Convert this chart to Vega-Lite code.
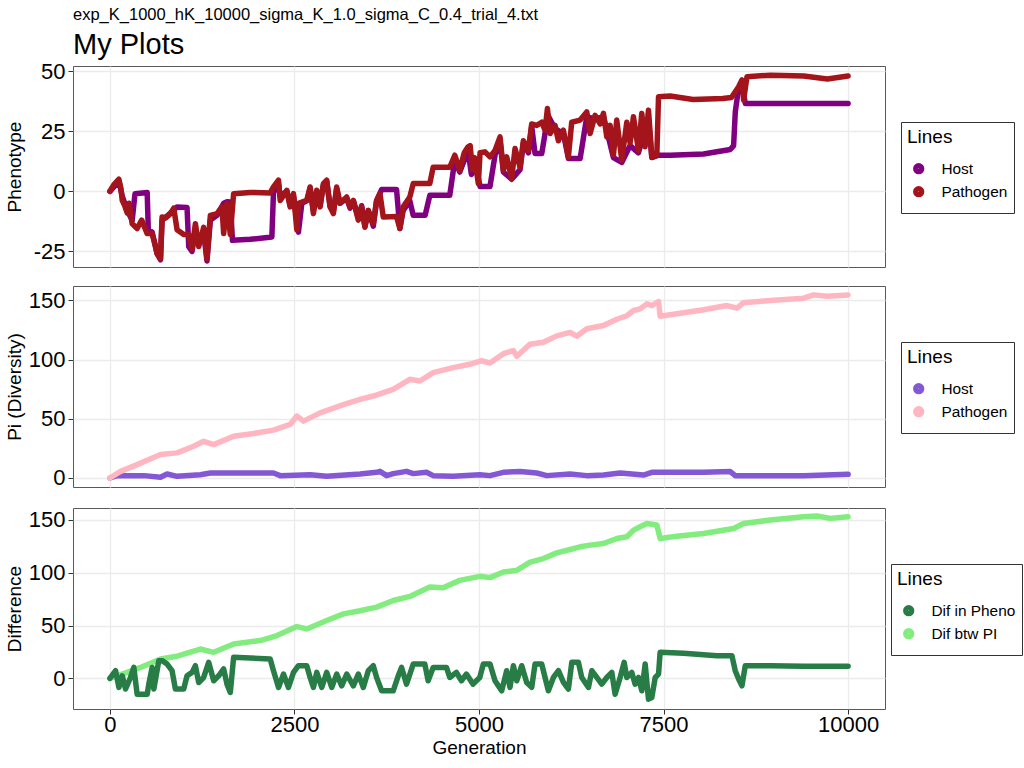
{
  "$schema": "https://vega.github.io/schema/vega-lite/v6.json",
  "background": "white",
  "padding": {"left": 4, "top": 6, "right": 0, "bottom": 0},
  "spacing": 17,
  "config": {
    "font": "Liberation Sans",
    "view": {"stroke": "#595959", "strokeWidth": 1},
    "axis": {"gridColor": "#EBEBEB", "gridWidth": 1.3, "domain": false, "tickColor": "#333333", "tickSize": 5, "labelFont": "Liberation Sans", "labelFontSize": 22, "labelColor": "#000000", "titleFont": "Liberation Sans", "titleFontSize": 19, "titleFontWeight": "normal", "titleColor": "#000000", "labelPadding": 3, "labelExpr": "'' + datum.value"},
    "legend": {"titleFont": "Liberation Sans", "labelFont": "Liberation Sans", "titleFontSize": 19, "titleFontWeight": "normal", "titleColor": "#000000", "labelFontSize": 15.4, "labelColor": "#000000", "strokeColor": "#333333", "fillColor": "white", "padding": 6, "symbolType": "circle", "symbolSize": 28, "symbolStrokeWidth": 6, "symbolOffset": 4, "labelOffset": 15, "rowPadding": -7, "titlePadding": 14, "symbolOpacity": 1}
  },
  "datasets": {
    "pheno": [
      {"g":0,"v":0,"s":"Host"},{"g":60,"v":2,"s":"Host"},{"g":122,"v":4,"s":"Host"},{"g":167,"v":-2,"s":"Host"},{"g":234,"v":-8,"s":"Host"},{"g":302,"v":-12,"s":"Host"},{"g":340,"v":-1,"s":"Host"},{"g":505,"v":-0.5,"s":"Host"},{"g":520,"v":-16,"s":"Host"},{"g":572,"v":-17,"s":"Host"},{"g":640,"v":-26,"s":"Host"},{"g":685,"v":-28.5,"s":"Host"},{"g":707,"v":-12,"s":"Host"},{"g":760,"v":-10.7,"s":"Host"},{"g":820,"v":-9,"s":"Host"},{"g":910,"v":-6.5,"s":"Host"},{"g":1045,"v":-6.8,"s":"Host"},{"g":1068,"v":-23,"s":"Host"},{"g":1113,"v":-25,"s":"Host"},{"g":1158,"v":-16,"s":"Host"},{"g":1203,"v":-22,"s":"Host"},{"g":1270,"v":-17,"s":"Host"},{"g":1315,"v":-29,"s":"Host"},{"g":1361,"v":-12,"s":"Host"},{"g":1451,"v":-10,"s":"Host"},{"g":1541,"v":-5,"s":"Host"},{"g":1586,"v":-4.4,"s":"Host"},{"g":1631,"v":-4.5,"s":"Host"},{"g":1660,"v":-20.4,"s":"Host"},{"g":1900,"v":-20,"s":"Host"},{"g":2194,"v":-19,"s":"Host"},{"g":2216,"v":-0.5,"s":"Host"},{"g":2284,"v":3,"s":"Host"},{"g":2307,"v":-2,"s":"Host"},{"g":2397,"v":0,"s":"Host"},{"g":2442,"v":-6,"s":"Host"},{"g":2487,"v":-2,"s":"Host"},{"g":2554,"v":-17,"s":"Host"},{"g":2600,"v":-5,"s":"Host"},{"g":2667,"v":-4,"s":"Host"},{"g":2712,"v":1,"s":"Host"},{"g":2757,"v":-8,"s":"Host"},{"g":2802,"v":0,"s":"Host"},{"g":2847,"v":-6,"s":"Host"},{"g":2892,"v":2.5,"s":"Host"},{"g":2937,"v":4,"s":"Host"},{"g":2982,"v":-6,"s":"Host"},{"g":3027,"v":-8.5,"s":"Host"},{"g":3072,"v":1,"s":"Host"},{"g":3117,"v":-5,"s":"Host"},{"g":3208,"v":-3,"s":"Host"},{"g":3253,"v":-7,"s":"Host"},{"g":3298,"v":-4,"s":"Host"},{"g":3365,"v":-11,"s":"Host"},{"g":3410,"v":-6,"s":"Host"},{"g":3455,"v":-14.5,"s":"Host"},{"g":3500,"v":-8,"s":"Host"},{"g":3568,"v":-14.5,"s":"Host"},{"g":3613,"v":-4,"s":"Host"},{"g":3680,"v":0.7,"s":"Host"},{"g":3883,"v":0.7,"s":"Host"},{"g":3928,"v":-15.5,"s":"Host"},{"g":3973,"v":-8,"s":"Host"},{"g":4063,"v":-4,"s":"Host"},{"g":4109,"v":-10,"s":"Host"},{"g":4270,"v":-10,"s":"Host"},{"g":4334,"v":-1.7,"s":"Host"},{"g":4604,"v":-1.7,"s":"Host"},{"g":4672,"v":13,"s":"Host"},{"g":4739,"v":8,"s":"Host"},{"g":4852,"v":17,"s":"Host"},{"g":4897,"v":7,"s":"Host"},{"g":4964,"v":10,"s":"Host"},{"g":5014,"v":2,"s":"Host"},{"g":5149,"v":2,"s":"Host"},{"g":5217,"v":15,"s":"Host"},{"g":5285,"v":21,"s":"Host"},{"g":5330,"v":8,"s":"Host"},{"g":5443,"v":5,"s":"Host"},{"g":5556,"v":9,"s":"Host"},{"g":5601,"v":20,"s":"Host"},{"g":5669,"v":16,"s":"Host"},{"g":5714,"v":27,"s":"Host"},{"g":5759,"v":15.7,"s":"Host"},{"g":5850,"v":15.7,"s":"Host"},{"g":5895,"v":24,"s":"Host"},{"g":5927,"v":32,"s":"Host"},{"g":6030,"v":26,"s":"Host"},{"g":6143,"v":24,"s":"Host"},{"g":6211,"v":13.6,"s":"Host"},{"g":6370,"v":13.6,"s":"Host"},{"g":6460,"v":31,"s":"Host"},{"g":6573,"v":30,"s":"Host"},{"g":6686,"v":31,"s":"Host"},{"g":6821,"v":14,"s":"Host"},{"g":6934,"v":12,"s":"Host"},{"g":7047,"v":19,"s":"Host"},{"g":7160,"v":16,"s":"Host"},{"g":7296,"v":30,"s":"Host"},{"g":7341,"v":14,"s":"Host"},{"g":7432,"v":15,"s":"Host"},{"g":7590,"v":15,"s":"Host"},{"g":8042,"v":15.5,"s":"Host"},{"g":8404,"v":17.4,"s":"Host"},{"g":8449,"v":19,"s":"Host"},{"g":8472,"v":33,"s":"Host"},{"g":8517,"v":43,"s":"Host"},{"g":8562,"v":44,"s":"Host"},{"g":8608,"v":36.5,"s":"Host"},{"g":10000,"v":36.5,"s":"Host"},
      {"g":0,"v":0,"s":"Pathogen"},{"g":60,"v":3,"s":"Pathogen"},{"g":122,"v":5,"s":"Pathogen"},{"g":150,"v":1,"s":"Pathogen"},{"g":167,"v":-3.8,"s":"Pathogen"},{"g":200,"v":-6,"s":"Pathogen"},{"g":234,"v":-9,"s":"Pathogen"},{"g":260,"v":-5,"s":"Pathogen"},{"g":302,"v":-13.5,"s":"Pathogen"},{"g":369,"v":-15.5,"s":"Pathogen"},{"g":430,"v":-12,"s":"Pathogen"},{"g":505,"v":-17.6,"s":"Pathogen"},{"g":572,"v":-17.6,"s":"Pathogen"},{"g":610,"v":-22,"s":"Pathogen"},{"g":640,"v":-26,"s":"Pathogen"},{"g":685,"v":-28,"s":"Pathogen"},{"g":707,"v":-10.7,"s":"Pathogen"},{"g":760,"v":-11,"s":"Pathogen"},{"g":820,"v":-9.3,"s":"Pathogen"},{"g":865,"v":-7,"s":"Pathogen"},{"g":910,"v":-16,"s":"Pathogen"},{"g":1000,"v":-18,"s":"Pathogen"},{"g":1068,"v":-18,"s":"Pathogen"},{"g":1113,"v":-24,"s":"Pathogen"},{"g":1158,"v":-13.5,"s":"Pathogen"},{"g":1203,"v":-23,"s":"Pathogen"},{"g":1270,"v":-15,"s":"Pathogen"},{"g":1315,"v":-28,"s":"Pathogen"},{"g":1361,"v":-10,"s":"Pathogen"},{"g":1451,"v":-9.3,"s":"Pathogen"},{"g":1518,"v":-6.5,"s":"Pathogen"},{"g":1541,"v":-17.6,"s":"Pathogen"},{"g":1586,"v":-5,"s":"Pathogen"},{"g":1631,"v":-18,"s":"Pathogen"},{"g":1676,"v":-1,"s":"Pathogen"},{"g":1900,"v":-0.5,"s":"Pathogen"},{"g":2171,"v":-0.7,"s":"Pathogen"},{"g":2216,"v":1.8,"s":"Pathogen"},{"g":2284,"v":4.6,"s":"Pathogen"},{"g":2307,"v":-3.8,"s":"Pathogen"},{"g":2397,"v":0.4,"s":"Pathogen"},{"g":2442,"v":-6.5,"s":"Pathogen"},{"g":2487,"v":-1,"s":"Pathogen"},{"g":2532,"v":-16,"s":"Pathogen"},{"g":2554,"v":-5,"s":"Pathogen"},{"g":2667,"v":-3.8,"s":"Pathogen"},{"g":2712,"v":1.8,"s":"Pathogen"},{"g":2757,"v":-9.3,"s":"Pathogen"},{"g":2802,"v":0.4,"s":"Pathogen"},{"g":2847,"v":-6.5,"s":"Pathogen"},{"g":2892,"v":3.2,"s":"Pathogen"},{"g":2937,"v":4.6,"s":"Pathogen"},{"g":2982,"v":-6.5,"s":"Pathogen"},{"g":3027,"v":-9.3,"s":"Pathogen"},{"g":3072,"v":1.8,"s":"Pathogen"},{"g":3117,"v":-5,"s":"Pathogen"},{"g":3208,"v":-2.4,"s":"Pathogen"},{"g":3253,"v":-6.5,"s":"Pathogen"},{"g":3298,"v":-3.8,"s":"Pathogen"},{"g":3365,"v":-12,"s":"Pathogen"},{"g":3410,"v":-6.5,"s":"Pathogen"},{"g":3455,"v":-15,"s":"Pathogen"},{"g":3500,"v":-8,"s":"Pathogen"},{"g":3568,"v":-13.5,"s":"Pathogen"},{"g":3613,"v":-3.8,"s":"Pathogen"},{"g":3658,"v":-1,"s":"Pathogen"},{"g":3703,"v":-10.7,"s":"Pathogen"},{"g":3883,"v":-10.5,"s":"Pathogen"},{"g":3928,"v":-15.5,"s":"Pathogen"},{"g":3973,"v":-6.5,"s":"Pathogen"},{"g":4063,"v":-2.4,"s":"Pathogen"},{"g":4109,"v":3.2,"s":"Pathogen"},{"g":4334,"v":3.2,"s":"Pathogen"},{"g":4379,"v":10,"s":"Pathogen"},{"g":4604,"v":10,"s":"Pathogen"},{"g":4672,"v":15,"s":"Pathogen"},{"g":4739,"v":8.75,"s":"Pathogen"},{"g":4800,"v":16,"s":"Pathogen"},{"g":4852,"v":18.5,"s":"Pathogen"},{"g":4880,"v":19,"s":"Pathogen"},{"g":4910,"v":9,"s":"Pathogen"},{"g":4940,"v":14,"s":"Pathogen"},{"g":4991,"v":3.2,"s":"Pathogen"},{"g":5014,"v":16,"s":"Pathogen"},{"g":5081,"v":16.4,"s":"Pathogen"},{"g":5149,"v":14.3,"s":"Pathogen"},{"g":5217,"v":17,"s":"Pathogen"},{"g":5285,"v":22.6,"s":"Pathogen"},{"g":5330,"v":8.75,"s":"Pathogen"},{"g":5375,"v":14.3,"s":"Pathogen"},{"g":5443,"v":5.3,"s":"Pathogen"},{"g":5488,"v":17.8,"s":"Pathogen"},{"g":5556,"v":10,"s":"Pathogen"},{"g":5601,"v":21,"s":"Pathogen"},{"g":5669,"v":17,"s":"Pathogen"},{"g":5714,"v":28,"s":"Pathogen"},{"g":5782,"v":27.4,"s":"Pathogen"},{"g":5850,"v":28.7,"s":"Pathogen"},{"g":5895,"v":25.4,"s":"Pathogen"},{"g":5927,"v":34.4,"s":"Pathogen"},{"g":5963,"v":24,"s":"Pathogen"},{"g":6030,"v":27.4,"s":"Pathogen"},{"g":6075,"v":21,"s":"Pathogen"},{"g":6143,"v":25.4,"s":"Pathogen"},{"g":6211,"v":14.3,"s":"Pathogen"},{"g":6256,"v":28.7,"s":"Pathogen"},{"g":6370,"v":29.6,"s":"Pathogen"},{"g":6460,"v":33,"s":"Pathogen"},{"g":6505,"v":24,"s":"Pathogen"},{"g":6573,"v":31.6,"s":"Pathogen"},{"g":6641,"v":28,"s":"Pathogen"},{"g":6686,"v":32.4,"s":"Pathogen"},{"g":6731,"v":22.6,"s":"Pathogen"},{"g":6776,"v":27.4,"s":"Pathogen"},{"g":6821,"v":15,"s":"Pathogen"},{"g":6866,"v":29.6,"s":"Pathogen"},{"g":6934,"v":13,"s":"Pathogen"},{"g":7002,"v":28.7,"s":"Pathogen"},{"g":7047,"v":20,"s":"Pathogen"},{"g":7092,"v":31,"s":"Pathogen"},{"g":7160,"v":17,"s":"Pathogen"},{"g":7205,"v":32.4,"s":"Pathogen"},{"g":7250,"v":18.5,"s":"Pathogen"},{"g":7296,"v":33.75,"s":"Pathogen"},{"g":7341,"v":14.3,"s":"Pathogen"},{"g":7409,"v":15,"s":"Pathogen"},{"g":7432,"v":39.3,"s":"Pathogen"},{"g":7590,"v":39.6,"s":"Pathogen"},{"g":7900,"v":38.2,"s":"Pathogen"},{"g":8300,"v":38.6,"s":"Pathogen"},{"g":8420,"v":39,"s":"Pathogen"},{"g":8472,"v":41.4,"s":"Pathogen"},{"g":8517,"v":43.5,"s":"Pathogen"},{"g":8562,"v":46.3,"s":"Pathogen"},{"g":8585,"v":38,"s":"Pathogen"},{"g":8630,"v":47.6,"s":"Pathogen"},{"g":8950,"v":48.3,"s":"Pathogen"},{"g":9400,"v":47.9,"s":"Pathogen"},{"g":9720,"v":46.7,"s":"Pathogen"},{"g":10000,"v":47.9,"s":"Pathogen"}
    ],
    "pi": [
      {"g":0,"v":0,"s":"Host"},{"g":99,"v":2,"s":"Host"},{"g":460,"v":2,"s":"Host"},{"g":685,"v":0.6,"s":"Host"},{"g":775,"v":3.4,"s":"Host"},{"g":910,"v":1.4,"s":"Host"},{"g":1225,"v":2.8,"s":"Host"},{"g":1361,"v":4.2,"s":"Host"},{"g":2216,"v":4.2,"s":"Host"},{"g":2307,"v":2,"s":"Host"},{"g":2712,"v":2.8,"s":"Host"},{"g":2937,"v":1.4,"s":"Host"},{"g":3388,"v":3.4,"s":"Host"},{"g":3613,"v":4.8,"s":"Host"},{"g":3658,"v":5.6,"s":"Host"},{"g":3748,"v":2,"s":"Host"},{"g":3838,"v":3.7,"s":"Host"},{"g":4018,"v":5.6,"s":"Host"},{"g":4109,"v":3.7,"s":"Host"},{"g":4289,"v":4.8,"s":"Host"},{"g":4379,"v":2,"s":"Host"},{"g":4649,"v":1.4,"s":"Host"},{"g":5010,"v":2.8,"s":"Host"},{"g":5149,"v":2,"s":"Host"},{"g":5330,"v":4.8,"s":"Host"},{"g":5556,"v":5.4,"s":"Host"},{"g":5782,"v":4.2,"s":"Host"},{"g":5918,"v":2,"s":"Host"},{"g":6234,"v":3.4,"s":"Host"},{"g":6460,"v":2,"s":"Host"},{"g":6686,"v":2.5,"s":"Host"},{"g":6912,"v":4.2,"s":"Host"},{"g":7228,"v":2.5,"s":"Host"},{"g":7341,"v":4.8,"s":"Host"},{"g":8042,"v":4.8,"s":"Host"},{"g":8404,"v":5.4,"s":"Host"},{"g":8471,"v":2,"s":"Host"},{"g":8946,"v":2,"s":"Host"},{"g":9398,"v":2,"s":"Host"},{"g":10000,"v":3.1,"s":"Host"},
      {"g":0,"v":0,"s":"Pathogen"},{"g":144,"v":5.6,"s":"Pathogen"},{"g":369,"v":11.3,"s":"Pathogen"},{"g":685,"v":19.8,"s":"Pathogen"},{"g":910,"v":21.2,"s":"Pathogen"},{"g":1135,"v":26.8,"s":"Pathogen"},{"g":1270,"v":31,"s":"Pathogen"},{"g":1406,"v":28.2,"s":"Pathogen"},{"g":1676,"v":35.3,"s":"Pathogen"},{"g":1946,"v":37.6,"s":"Pathogen"},{"g":2216,"v":40.4,"s":"Pathogen"},{"g":2442,"v":45.2,"s":"Pathogen"},{"g":2532,"v":52.3,"s":"Pathogen"},{"g":2622,"v":48,"s":"Pathogen"},{"g":2847,"v":55,"s":"Pathogen"},{"g":3163,"v":62,"s":"Pathogen"},{"g":3388,"v":66.4,"s":"Pathogen"},{"g":3568,"v":69.2,"s":"Pathogen"},{"g":3838,"v":74.9,"s":"Pathogen"},{"g":4063,"v":83.3,"s":"Pathogen"},{"g":4199,"v":81.9,"s":"Pathogen"},{"g":4379,"v":89,"s":"Pathogen"},{"g":4649,"v":93.2,"s":"Pathogen"},{"g":4874,"v":96,"s":"Pathogen"},{"g":5036,"v":99,"s":"Pathogen"},{"g":5149,"v":97,"s":"Pathogen"},{"g":5330,"v":105,"s":"Pathogen"},{"g":5466,"v":107.6,"s":"Pathogen"},{"g":5511,"v":102.8,"s":"Pathogen"},{"g":5692,"v":113,"s":"Pathogen"},{"g":5872,"v":114.6,"s":"Pathogen"},{"g":6053,"v":120,"s":"Pathogen"},{"g":6234,"v":123,"s":"Pathogen"},{"g":6324,"v":119.7,"s":"Pathogen"},{"g":6460,"v":126,"s":"Pathogen"},{"g":6686,"v":128.7,"s":"Pathogen"},{"g":6867,"v":134,"s":"Pathogen"},{"g":7002,"v":137,"s":"Pathogen"},{"g":7093,"v":141.4,"s":"Pathogen"},{"g":7183,"v":142.8,"s":"Pathogen"},{"g":7274,"v":147,"s":"Pathogen"},{"g":7341,"v":145.6,"s":"Pathogen"},{"g":7432,"v":149,"s":"Pathogen"},{"g":7454,"v":136.6,"s":"Pathogen"},{"g":7680,"v":138.6,"s":"Pathogen"},{"g":8042,"v":142,"s":"Pathogen"},{"g":8359,"v":145.6,"s":"Pathogen"},{"g":8494,"v":143.4,"s":"Pathogen"},{"g":8584,"v":148,"s":"Pathogen"},{"g":8946,"v":149.9,"s":"Pathogen"},{"g":9398,"v":151.8,"s":"Pathogen"},{"g":9534,"v":154.6,"s":"Pathogen"},{"g":9714,"v":153.5,"s":"Pathogen"},{"g":10000,"v":154.6,"s":"Pathogen"}
    ],
    "dif": [
      {"g":0,"v":0,"s":"Dif btw PI"},{"g":234,"v":5.7,"s":"Dif btw PI"},{"g":414,"v":10.4,"s":"Dif btw PI"},{"g":685,"v":18.4,"s":"Dif btw PI"},{"g":910,"v":21,"s":"Dif btw PI"},{"g":1225,"v":27.8,"s":"Dif btw PI"},{"g":1406,"v":24.7,"s":"Dif btw PI"},{"g":1676,"v":32.6,"s":"Dif btw PI"},{"g":2036,"v":35.8,"s":"Dif btw PI"},{"g":2262,"v":40.5,"s":"Dif btw PI"},{"g":2532,"v":49,"s":"Dif btw PI"},{"g":2667,"v":46.8,"s":"Dif btw PI"},{"g":2937,"v":54.7,"s":"Dif btw PI"},{"g":3163,"v":61,"s":"Dif btw PI"},{"g":3388,"v":64,"s":"Dif btw PI"},{"g":3613,"v":67.4,"s":"Dif btw PI"},{"g":3838,"v":73.7,"s":"Dif btw PI"},{"g":4063,"v":77.5,"s":"Dif btw PI"},{"g":4334,"v":86.4,"s":"Dif btw PI"},{"g":4514,"v":85.8,"s":"Dif btw PI"},{"g":4739,"v":92.7,"s":"Dif btw PI"},{"g":5010,"v":96.5,"s":"Dif btw PI"},{"g":5149,"v":95.3,"s":"Dif btw PI"},{"g":5330,"v":100.6,"s":"Dif btw PI"},{"g":5511,"v":102.2,"s":"Dif btw PI"},{"g":5692,"v":110,"s":"Dif btw PI"},{"g":5872,"v":113.3,"s":"Dif btw PI"},{"g":6053,"v":118.7,"s":"Dif btw PI"},{"g":6234,"v":121.9,"s":"Dif btw PI"},{"g":6370,"v":124.4,"s":"Dif btw PI"},{"g":6505,"v":126,"s":"Dif btw PI"},{"g":6686,"v":127.5,"s":"Dif btw PI"},{"g":6867,"v":132.3,"s":"Dif btw PI"},{"g":7002,"v":133.9,"s":"Dif btw PI"},{"g":7093,"v":140.2,"s":"Dif btw PI"},{"g":7183,"v":143.4,"s":"Dif btw PI"},{"g":7274,"v":146.5,"s":"Dif btw PI"},{"g":7409,"v":145,"s":"Dif btw PI"},{"g":7454,"v":132.3,"s":"Dif btw PI"},{"g":7680,"v":134.5,"s":"Dif btw PI"},{"g":8042,"v":137,"s":"Dif btw PI"},{"g":8449,"v":141.8,"s":"Dif btw PI"},{"g":8584,"v":146.5,"s":"Dif btw PI"},{"g":8946,"v":149.7,"s":"Dif btw PI"},{"g":9398,"v":152.9,"s":"Dif btw PI"},{"g":9579,"v":153.5,"s":"Dif btw PI"},{"g":9760,"v":151.3,"s":"Dif btw PI"},{"g":10000,"v":152.8,"s":"Dif btw PI"},
      {"g":0,"v":0,"s":"Dif in Pheno"},{"g":77,"v":7.3,"s":"Dif in Pheno"},{"g":122,"v":-8.5,"s":"Dif in Pheno"},{"g":167,"v":2.5,"s":"Dif in Pheno"},{"g":212,"v":-10,"s":"Dif in Pheno"},{"g":279,"v":0.9,"s":"Dif in Pheno"},{"g":324,"v":10.4,"s":"Dif in Pheno"},{"g":369,"v":-15,"s":"Dif in Pheno"},{"g":505,"v":-15,"s":"Dif in Pheno"},{"g":527,"v":-5.4,"s":"Dif in Pheno"},{"g":572,"v":10.4,"s":"Dif in Pheno"},{"g":595,"v":-10,"s":"Dif in Pheno"},{"g":662,"v":16.8,"s":"Dif in Pheno"},{"g":707,"v":16.8,"s":"Dif in Pheno"},{"g":775,"v":13.6,"s":"Dif in Pheno"},{"g":842,"v":7.3,"s":"Dif in Pheno"},{"g":887,"v":-10,"s":"Dif in Pheno"},{"g":1000,"v":-10,"s":"Dif in Pheno"},{"g":1045,"v":2.5,"s":"Dif in Pheno"},{"g":1113,"v":5.7,"s":"Dif in Pheno"},{"g":1158,"v":12,"s":"Dif in Pheno"},{"g":1203,"v":-3.8,"s":"Dif in Pheno"},{"g":1270,"v":0.9,"s":"Dif in Pheno"},{"g":1338,"v":15.2,"s":"Dif in Pheno"},{"g":1406,"v":-2.2,"s":"Dif in Pheno"},{"g":1473,"v":2.5,"s":"Dif in Pheno"},{"g":1541,"v":8.9,"s":"Dif in Pheno"},{"g":1586,"v":-5.4,"s":"Dif in Pheno"},{"g":1631,"v":-13.3,"s":"Dif in Pheno"},{"g":1676,"v":20,"s":"Dif in Pheno"},{"g":2171,"v":18.4,"s":"Dif in Pheno"},{"g":2216,"v":7.3,"s":"Dif in Pheno"},{"g":2284,"v":-8.5,"s":"Dif in Pheno"},{"g":2351,"v":4.1,"s":"Dif in Pheno"},{"g":2419,"v":-8.5,"s":"Dif in Pheno"},{"g":2487,"v":5.7,"s":"Dif in Pheno"},{"g":2554,"v":12,"s":"Dif in Pheno"},{"g":2667,"v":12,"s":"Dif in Pheno"},{"g":2712,"v":0.9,"s":"Dif in Pheno"},{"g":2757,"v":-8.5,"s":"Dif in Pheno"},{"g":2802,"v":5.7,"s":"Dif in Pheno"},{"g":2870,"v":-8.5,"s":"Dif in Pheno"},{"g":2937,"v":5.7,"s":"Dif in Pheno"},{"g":3005,"v":-8.5,"s":"Dif in Pheno"},{"g":3072,"v":4.1,"s":"Dif in Pheno"},{"g":3140,"v":-7,"s":"Dif in Pheno"},{"g":3208,"v":4.1,"s":"Dif in Pheno"},{"g":3298,"v":-7,"s":"Dif in Pheno"},{"g":3365,"v":4.1,"s":"Dif in Pheno"},{"g":3433,"v":-8.5,"s":"Dif in Pheno"},{"g":3500,"v":7.3,"s":"Dif in Pheno"},{"g":3568,"v":12,"s":"Dif in Pheno"},{"g":3613,"v":0.9,"s":"Dif in Pheno"},{"g":3681,"v":-11.7,"s":"Dif in Pheno"},{"g":3838,"v":-11.7,"s":"Dif in Pheno"},{"g":3906,"v":2.5,"s":"Dif in Pheno"},{"g":3951,"v":10.4,"s":"Dif in Pheno"},{"g":4018,"v":-5.4,"s":"Dif in Pheno"},{"g":4109,"v":13.6,"s":"Dif in Pheno"},{"g":4266,"v":13.6,"s":"Dif in Pheno"},{"g":4311,"v":-2.2,"s":"Dif in Pheno"},{"g":4379,"v":10.4,"s":"Dif in Pheno"},{"g":4559,"v":10.4,"s":"Dif in Pheno"},{"g":4604,"v":0.9,"s":"Dif in Pheno"},{"g":4694,"v":5.7,"s":"Dif in Pheno"},{"g":4762,"v":-2.2,"s":"Dif in Pheno"},{"g":4829,"v":4.1,"s":"Dif in Pheno"},{"g":4919,"v":-5.4,"s":"Dif in Pheno"},{"g":5010,"v":0.9,"s":"Dif in Pheno"},{"g":5059,"v":13.6,"s":"Dif in Pheno"},{"g":5149,"v":13.6,"s":"Dif in Pheno"},{"g":5217,"v":-2.2,"s":"Dif in Pheno"},{"g":5307,"v":-11.7,"s":"Dif in Pheno"},{"g":5375,"v":7.3,"s":"Dif in Pheno"},{"g":5420,"v":-8.5,"s":"Dif in Pheno"},{"g":5466,"v":12,"s":"Dif in Pheno"},{"g":5511,"v":-2.2,"s":"Dif in Pheno"},{"g":5579,"v":12,"s":"Dif in Pheno"},{"g":5646,"v":-3.8,"s":"Dif in Pheno"},{"g":5714,"v":-8.5,"s":"Dif in Pheno"},{"g":5759,"v":13.6,"s":"Dif in Pheno"},{"g":5850,"v":13.6,"s":"Dif in Pheno"},{"g":5895,"v":0.9,"s":"Dif in Pheno"},{"g":5940,"v":-11.7,"s":"Dif in Pheno"},{"g":6008,"v":0.9,"s":"Dif in Pheno"},{"g":6076,"v":7.3,"s":"Dif in Pheno"},{"g":6144,"v":-3.8,"s":"Dif in Pheno"},{"g":6211,"v":-10,"s":"Dif in Pheno"},{"g":6257,"v":15.2,"s":"Dif in Pheno"},{"g":6347,"v":15.2,"s":"Dif in Pheno"},{"g":6392,"v":0.9,"s":"Dif in Pheno"},{"g":6483,"v":-8.5,"s":"Dif in Pheno"},{"g":6528,"v":7.3,"s":"Dif in Pheno"},{"g":6596,"v":0.9,"s":"Dif in Pheno"},{"g":6663,"v":-5.4,"s":"Dif in Pheno"},{"g":6731,"v":0.9,"s":"Dif in Pheno"},{"g":6799,"v":5.7,"s":"Dif in Pheno"},{"g":6844,"v":-15,"s":"Dif in Pheno"},{"g":6912,"v":0.9,"s":"Dif in Pheno"},{"g":6966,"v":15.2,"s":"Dif in Pheno"},{"g":7002,"v":0.9,"s":"Dif in Pheno"},{"g":7070,"v":5.7,"s":"Dif in Pheno"},{"g":7115,"v":-5.4,"s":"Dif in Pheno"},{"g":7161,"v":0.9,"s":"Dif in Pheno"},{"g":7206,"v":-11.7,"s":"Dif in Pheno"},{"g":7251,"v":13.6,"s":"Dif in Pheno"},{"g":7296,"v":-19.6,"s":"Dif in Pheno"},{"g":7341,"v":-18,"s":"Dif in Pheno"},{"g":7387,"v":0.9,"s":"Dif in Pheno"},{"g":7432,"v":4.1,"s":"Dif in Pheno"},{"g":7454,"v":24.7,"s":"Dif in Pheno"},{"g":7771,"v":23.7,"s":"Dif in Pheno"},{"g":8223,"v":21.5,"s":"Dif in Pheno"},{"g":8426,"v":21.5,"s":"Dif in Pheno"},{"g":8471,"v":7.3,"s":"Dif in Pheno"},{"g":8517,"v":-0.6,"s":"Dif in Pheno"},{"g":8562,"v":-7,"s":"Dif in Pheno"},{"g":8607,"v":12,"s":"Dif in Pheno"},{"g":8946,"v":12,"s":"Dif in Pheno"},{"g":9398,"v":11.4,"s":"Dif in Pheno"},{"g":10000,"v":11.4,"s":"Dif in Pheno"}
    ]
  },
  "vconcat": [
    {
      "width": 812, "height": 201,
      "title": {"text": "exp_K_1000_hK_10000_sigma_K_1.0_sigma_C_0.4_trial_4.txt", "subtitle": "My Plots", "anchor": "start", "frame": "group", "font": "Liberation Sans", "subtitleFont": "Liberation Sans", "fontSize": 16.5, "fontWeight": "normal", "color": "#000000", "subtitleFontSize": 29, "subtitleColor": "#000000", "subtitlePadding": 8, "offset": 0},
      "data": {"name": "pheno"},
      "mark": {"type": "line", "strokeWidth": 5.5, "strokeCap": "round", "strokeJoin": "round"},
      "encoding": {
        "x": {"field": "g", "type": "quantitative", "scale": {"domain": [-500, 10500], "nice": false, "zero": false}, "axis": {"title": null, "labels": false, "ticks": false, "values": [0, 2500, 5000, 7500, 10000]}},
        "y": {"field": "v", "type": "quantitative", "scale": {"domain": [-31.5, 52.1], "nice": false, "zero": false}, "axis": {"title": "Phenotype", "values": [-25, 0, 25, 50], "titleX": -49}},
        "color": {"field": "s", "type": "nominal", "scale": {"domain": ["Host", "Pathogen"], "range": ["#800080", "#A3141B"]}, "legend": {"title": "Lines", "orient": "none", "legendX": 828, "legendY": 56}}
      }
    },
    {
      "width": 812, "height": 201,
      "data": {"name": "pi"},
      "mark": {"type": "line", "strokeWidth": 5.5, "strokeCap": "round", "strokeJoin": "round"},
      "encoding": {
        "x": {"field": "g", "type": "quantitative", "scale": {"domain": [-500, 10500], "nice": false, "zero": false}, "axis": {"title": null, "labels": false, "ticks": false, "values": [0, 2500, 5000, 7500, 10000]}},
        "y": {"field": "v", "type": "quantitative", "scale": {"domain": [-7.6, 162.1], "nice": false, "zero": false}, "axis": {"title": "Pi (Diversity)", "values": [0, 50, 100, 150], "titleX": -49}},
        "color": {"field": "s", "type": "nominal", "scale": {"domain": ["Host", "Pathogen"], "range": ["#8458D4", "#FFB6C1"]}, "legend": {"title": "Lines", "orient": "none", "legendX": 828, "legendY": 56}}
      }
    },
    {
      "width": 812, "height": 201,
      "data": {"name": "dif"},
      "mark": {"type": "line", "strokeWidth": 5.5, "strokeCap": "round", "strokeJoin": "round"},
      "encoding": {
        "x": {"field": "g", "type": "quantitative", "scale": {"domain": [-500, 10500], "nice": false, "zero": false}, "axis": {"title": "Generation", "values": [0, 2500, 5000, 7500, 10000], "labelPadding": 0, "titlePadding": 3}},
        "y": {"field": "v", "type": "quantitative", "scale": {"domain": [-28.9, 161.1], "nice": false, "zero": false}, "axis": {"title": "Difference", "values": [0, 50, 100, 150], "titleX": -49}},
        "color": {"field": "s", "type": "nominal", "scale": {"domain": ["Dif in Pheno", "Dif btw PI"], "range": ["#287D47", "#82EC7E"]}, "legend": {"title": "Lines", "orient": "none", "legendX": 818, "legendY": 56}}
      }
    }
  ],
  "resolve": {"scale": {"color": "independent", "y": "independent"}, "legend": {"color": "independent"}}
}
